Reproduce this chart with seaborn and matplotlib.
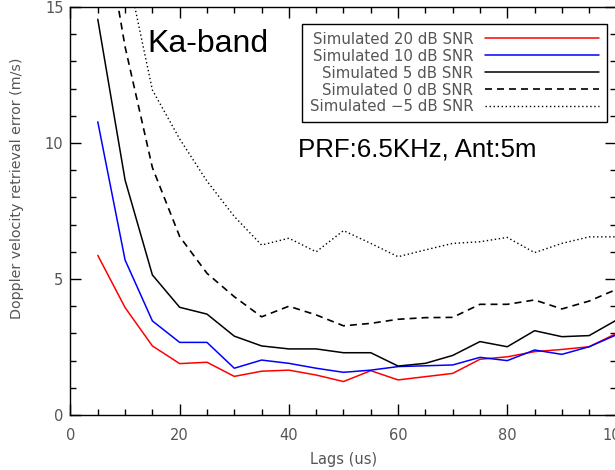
import numpy as np
import pandas as pd
import seaborn as sns
import matplotlib.pyplot as plt
from matplotlib.ticker import MultipleLocator

# -- data --
lags = [5, 10, 15, 20, 25, 30, 35, 40, 45, 50, 55, 60, 65, 70, 75, 80, 85, 90, 95, 100]

snr_20db = [5.87, 3.95, 2.54, 1.89, 1.94, 1.42, 1.61, 1.65, 1.47, 1.23,
	1.63, 1.29, 1.41, 1.53, 2.05, 2.14, 2.33, 2.41, 2.51, 3.0]
snr_10db = [10.78, 5.70, 3.46, 2.67, 2.67, 1.72, 2.02, 1.90, 1.72, 1.57,
	1.65, 1.78, 1.81, 1.84, 2.12, 2.00, 2.39, 2.23, 2.51, 2.95]
snr_5db = [14.55, 8.64, 5.15, 3.96, 3.71, 2.90, 2.54, 2.43, 2.43, 2.29,
	2.29, 1.80, 1.90, 2.19, 2.70, 2.51, 3.10, 2.88, 2.92, 3.49]
snr_0db = [19.4, 13.54, 9.1, 6.56, 5.21, 4.35, 3.61, 4.0, 3.68, 3.28,
	3.37, 3.52, 3.58, 3.59, 4.07, 4.07, 4.23, 3.90, 4.19, 4.62]
snr_m5db = [24.0, 16.7, 11.95, 10.15, 8.6, 7.3, 6.25, 6.5, 6.0, 6.78,
	6.31, 5.82, 6.07, 6.31, 6.37, 6.53, 5.97, 6.31, 6.55, 6.55]

labels = ["Simulated 20 dB SNR", "Simulated 10 dB SNR", "Simulated 5 dB SNR",
	"Simulated 0 dB SNR", "Simulated \u22125 dB SNR"]

series = [snr_20db, snr_10db, snr_5db, snr_0db, snr_m5db]
colors = ["#ff0000", "#0000ff", "black", "black", "black"]
styles = ["-", "-", "-", (0, (4.2, 3)), (0, (1, 1.9))]
widths = [1.1, 1.1, 1.1, 1.2, 1.0]

sns.set_style("ticks")
plt.rcParams["font.family"] = ["DejaVu Sans"]
grey = "#555555"

fig = plt.figure(figsize=(6.15, 4.7), dpi=100)
ax = fig.add_axes([0.1146, 0.117, 0.8878, 0.868])

for vals, lab, col, ls, lw in zip(series, labels, colors, styles, widths):
	df = pd.DataFrame({"lag": lags, "err": vals})
	sns.lineplot(data=df, x="lag", y="err", color=col, linestyle=ls, linewidth=lw, label=lab, ax=ax)

ax.set_xlim(0, 100)
ax.set_ylim(0, 15)
ax.xaxis.set_major_locator(MultipleLocator(20))
ax.xaxis.set_minor_locator(MultipleLocator(5))
ax.yaxis.set_major_locator(MultipleLocator(5))
ax.yaxis.set_minor_locator(MultipleLocator(1))
ax.tick_params(which="both", direction="in", top=True, right=True, colors="black", labelcolor=grey, labelsize=10.5, width=1)
ax.tick_params(which="major", length=8)
ax.tick_params(which="minor", length=4)
ax.tick_params(axis="x", pad=9)
ax.tick_params(axis="y", pad=5)
for s in ax.spines.values():
	s.set_visible(True)
	s.set_linewidth(1)
	s.set_color("black")

ax.set_xlabel("Lags (us)", fontsize=10.5, color=grey)
ax.set_ylabel("Doppler velocity retrieval error (m/s)", fontsize=10.3, color=grey)
ax.yaxis.set_label_coords(-0.085, 0.556)
ax.xaxis.set_label_coords(0.5, -0.09)

ax.text(14.0, 13.35, "Ka-band", fontsize=23, family="Liberation Sans", color="black")
ax.text(41.7, 9.52, "PRF:6.5KHz, Ant:5m", fontsize=18.6, family="Liberation Sans", color="black")

leg = ax.legend(loc="upper right", bbox_to_anchor=(0.9826, 0.958), borderaxespad=0, markerfirst=False,
	fontsize=10.8, labelcolor=grey, handlelength=7.6, handletextpad=0.8,
	labelspacing=0.13, borderpad=0.5, fancybox=False, framealpha=1, edgecolor="black")
leg.get_frame().set_linewidth(1)

plt.savefig("out.png", dpi=100)
